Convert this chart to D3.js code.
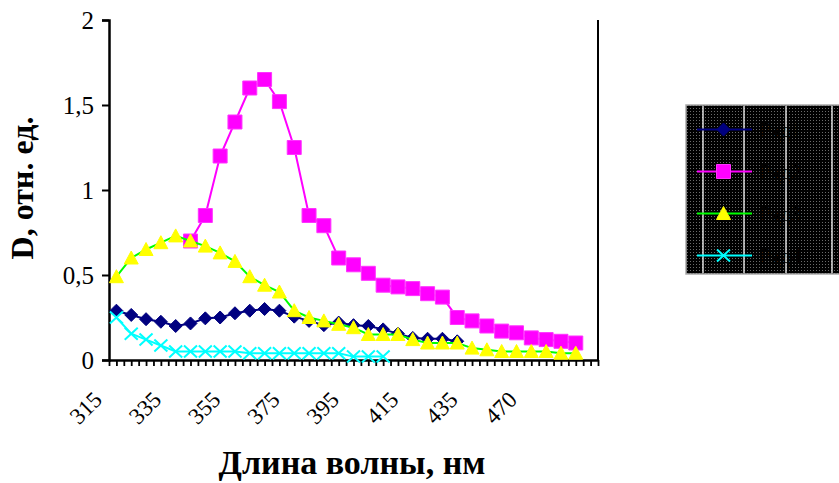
<!DOCTYPE html>
<html>
<head>
<meta charset="utf-8">
<script src="https://cdn.jsdelivr.net/npm/d3@7"></script>
<style>
  body { margin: 0; background: #fff; }
  svg { display: block; }
</style>
</head>
<body>
<script>
// wavelength categories (label shown every 4th)
let categories = ['315','320','325','330','335','340','345','350','355','360','365','370','375','380','385','390',
  '395','400','405','410','415','420','425','430','435','440','450','460','470','480','490','500','']
let yTicks = [0, 0.5, 1, 1.5, 2]

let series1 = [0.29,0.265,0.24,0.225,0.20,0.215,0.245,0.25,0.275,0.29,0.30,0.29,0.255,0.23,0.205,0.22,0.205,0.20,0.18,0.155,0.13,0.125,0.125,0.11]
let series2 = [null,null,null,null,null,0.70,0.85,1.20,1.40,1.60,1.65,1.52,1.25,0.85,0.79,0.60,0.56,0.51,0.44,0.43,0.42,0.39,0.37,0.25,0.23,0.20,0.17,0.16,0.13,0.12,0.11,0.10]
let series3 = [0.49,0.60,0.65,0.69,0.73,0.70,0.67,0.63,0.58,0.49,0.44,0.40,0.29,0.25,0.23,0.21,0.19,0.15,0.15,0.15,0.12,0.10,0.10,0.10,0.07,0.06,0.05,0.05,0.05,0.05,0.04,0.04]
let series4 = [0.25,0.155,0.12,0.085,0.05,0.05,0.05,0.05,0.05,0.04,0.04,0.04,0.04,0.04,0.04,0.04,0.02,0.02,0.02]
let seriesNames = ['Ряд1','Ряд2','Ряд3','Ряд4']

let w = 839
let h = 483

let svg = d3.select('body').append('svg').attr('width', w).attr('height', h)

let x = d3.scaleBand().domain(d3.range(categories.length)).range([109, 598]).padding(0)
let xc = i => x(i) + x.bandwidth() / 2
let xLin = d3.scaleLinear().domain([0, categories.length]).range([109, 598])
let y = d3.scaleLinear().domain([0, 2]).range([360, 20])

// legend pattern
let defs = svg.append('defs')
let pat = defs.append('pattern').attr('id', 'dots').attr('patternUnits', 'userSpaceOnUse')
  .attr('width', 3).attr('height', 3)
pat.append('rect').attr('width', 3).attr('height', 3).attr('fill', '#000')
pat.append('rect').attr('width', 1).attr('height', 1).attr('fill', '#6a6a6a')

// right border of plot area
svg.append('line').attr('x1', 598).attr('x2', 598).attr('y1', y(2)).attr('y2', y(0))
  .attr('stroke', '#000').attr('stroke-width', 2)

// y axis
let yAxis = svg.append('g').attr('transform', 'translate(109,0)')
  .call(d3.axisLeft(y).tickValues(yTicks).tickSize(7).tickPadding(8)
    .tickFormat(d => String(d).replace('.', ',')))
yAxis.select('.domain').attr('stroke-width', 2.5)
yAxis.selectAll('.tick line').attr('stroke-width', 2)
yAxis.selectAll('.tick text').attr('font-family', 'Liberation Serif').attr('font-size', 25).attr('fill', '#000')

// x axis (ticks every half category)
let xAxis = svg.append('g').attr('transform', 'translate(0,360)')
  .call(d3.axisBottom(xLin).tickValues(d3.range(0, categories.length + 0.01, 0.5)).tickSize(6).tickSizeOuter(0).tickFormat(''))
xAxis.select('.domain').attr('stroke-width', 2.5)
xAxis.selectAll('.tick line').attr('stroke-width', 1.8)

svg.append('g').selectAll('text')
  .data(categories.map((c, i) => ({ c, i })).filter(d => d.i % 4 === 0 && d.c !== ''))
  .enter().append('text')
  .attr('transform', d => 'translate(' + (xc(d.i) - 13) + ',401) rotate(-45)')
  .attr('text-anchor', 'end')
  .attr('font-family', 'Liberation Serif').attr('font-size', 23)
  .text(d => d.c)

// axis titles
svg.append('text').attr('x', 352).attr('y', 474).attr('text-anchor', 'middle')
  .attr('font-family', 'Liberation Serif').attr('font-weight', 'bold').attr('font-size', 34)
  .text('Длина волны, нм')
svg.append('text').attr('transform', 'translate(33,188) rotate(-90)').attr('text-anchor', 'middle')
  .attr('font-family', 'Liberation Serif').attr('font-weight', 'bold').attr('font-size', 32)
  .text('D, отн. ед.')

// marker shapes
let shapes = {
  diamond: 'M0,-6.5L6.5,0L0,6.5L-6.5,0Z',
  square: 'M-7,-7H7V7H-7Z',
  triangle: 'M0,-7L7,6H-7Z',
  cross: 'M-6.5,-6L6.5,6M-6.5,6L6.5,-6'
}
let styles = [
  { data: series1, line: '#000080', fill: '#000080', stroke: '#000080', shape: 'diamond' },
  { data: series2, line: '#ff00ff', fill: '#ff00ff', stroke: '#ff33ff', shape: 'square' },
  { data: series3, line: '#00ff00', fill: '#ffff00', stroke: '#ffff00', shape: 'triangle' },
  { data: series4, line: '#00ffff', fill: 'none', stroke: '#00ffff', shape: 'cross' }
]

let line = d3.line().defined(d => d != null).x((d, i) => xc(i)).y(d => y(d))

styles.forEach(s => {
  let g = svg.append('g')
  g.append('path').datum(s.data).attr('d', line).attr('fill', 'none')
    .attr('stroke', s.line).attr('stroke-width', 2)
  g.selectAll('path.m')
    .data(s.data.map((v, i) => ({ v, i })).filter(d => d.v != null))
    .enter().append('path').attr('class', 'm')
    .attr('d', shapes[s.shape])
    .attr('transform', d => 'translate(' + xc(d.i) + ',' + y(d.v) + ')')
    .attr('fill', s.fill).attr('stroke', s.stroke)
    .attr('stroke-width', s.shape === 'cross' ? 2 : 1)
})

// legend
let lg = svg.append('g')
lg.append('rect').attr('x', 686).attr('y', 105).attr('width', 170).attr('height', 169)
  .attr('fill', 'url(#dots)').attr('stroke', '#aaa').attr('stroke-width', 1.5)
;[703, 744, 786, 832].forEach(px => {
  lg.append('line').attr('x1', px).attr('x2', px).attr('y1', 106).attr('y2', 273)
    .attr('stroke', '#fff').attr('stroke-width', 1.3)
})
let legendY = d3.scalePoint().domain(d3.range(4)).range([129.5, 255.5])
styles.forEach((s, i) => {
  let ly = legendY(i)
  lg.append('line').attr('x1', 697).attr('x2', 752).attr('y1', ly).attr('y2', ly)
    .attr('stroke', s.line).attr('stroke-width', 2)
  lg.append('path').attr('d', shapes[s.shape]).attr('transform', 'translate(723.5,' + ly + ')')
    .attr('fill', s.fill).attr('stroke', s.stroke).attr('stroke-width', s.shape === 'cross' ? 2 : 1)
  lg.append('text').attr('x', 760).attr('y', ly + 7).attr('font-family', 'Liberation Serif')
    .attr('font-size', 21).attr('fill', '#000').text(seriesNames[i])
})
</script>
</body>
</html>
